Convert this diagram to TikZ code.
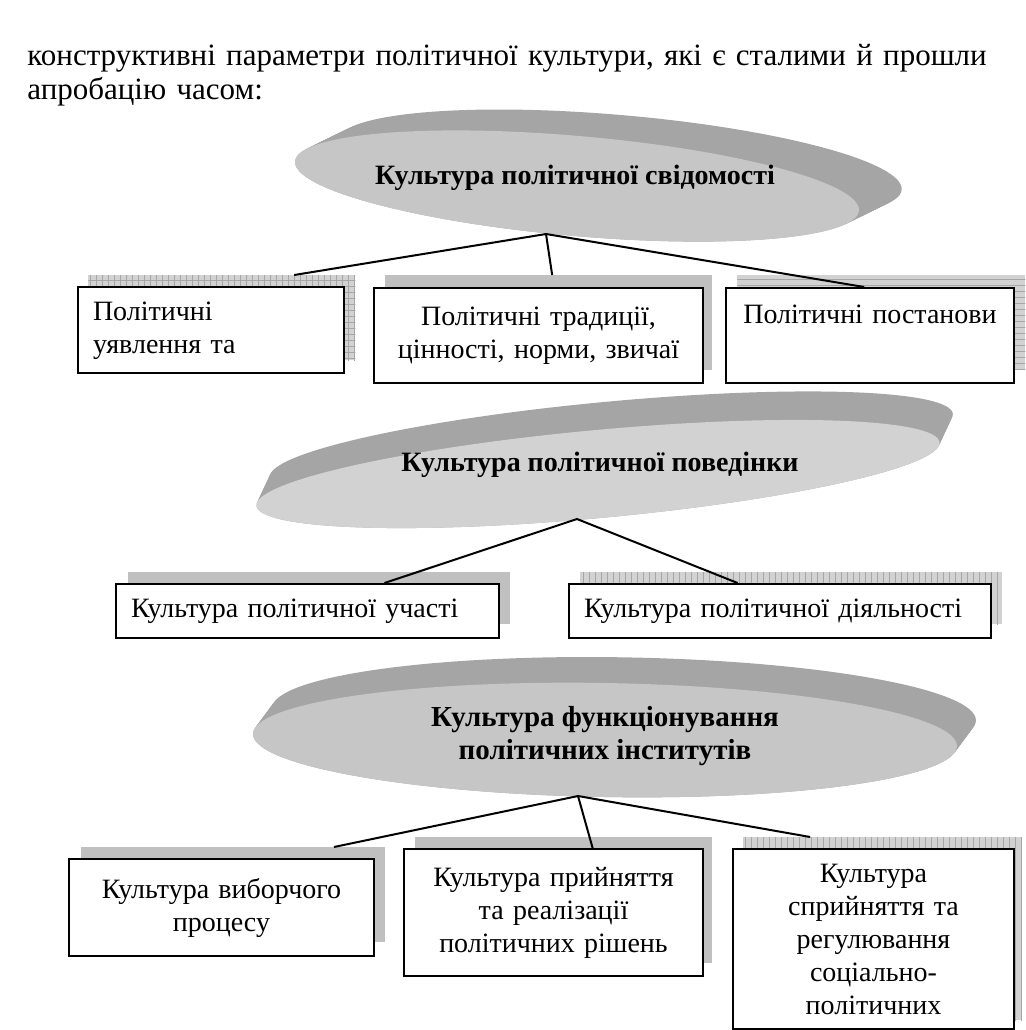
\documentclass[tikz,border=0pt]{standalone}
\usepackage{fontspec}
\setmainfont{Liberation Serif}
\usetikzlibrary{calc,patterns}

\definecolor{rimgray}{RGB}{165,165,165}
\definecolor{facegray}{RGB}{198,198,198}
\definecolor{facelight}{RGB}{210,210,210}
\definecolor{shadegray}{RGB}{192,192,192}
\definecolor{shadelight}{RGB}{210,210,210}

\tikzset{
  every node/.style={font=\fontsize{14}{16.5}\selectfont},
  box/.style={draw, line width=1pt, fill=white, anchor=north west,
    inner xsep=7.5pt, inner ysep=0pt, align=center},
  etext/.style={font=\bfseries\fontsize{14}{16.5}\selectfont, align=center},
  backshade/.style={fill=shadegray, anchor=north west, inner sep=0pt},
  gridshade/.style={backshade, fill=shadelight, postaction={pattern=grid, pattern color=gray!70}},
  hlineshade/.style={backshade, fill=shadelight, postaction={pattern=horizontal lines, pattern color=gray!70}},
  vlineshade/.style={backshade, fill=shadelight, postaction={pattern=vertical lines, pattern color=gray!70}},
  link/.style={line width=1pt},
}

\begin{document}
\begin{tikzpicture}[x=0.5pt,y=-0.5pt]
\useasboundingbox (0,0) rectangle (1025,1030);

%Text
\node[anchor=north west, text width=486.5pt, align=left, inner sep=0pt,
  font=\fontsize{15.5}{17}\selectfont] (intro) at (27,44)
  {\makebox[486.5pt][s]{конструктивні параметри політичної культури, які є сталими й прошли}\\
   апробацію часом:};

%Ellipses (rim swept up-right, then the face)
\foreach \t in {0,0.05,...,1}
  \fill[rimgray, shift={({45*\t},{-22*\t})}, rotate around={-5:(577,186)}] (577,186) ellipse [x radius=283, y radius=50];
\fill[facegray, rotate around={-5:(577,186)}] (577,186) ellipse [x radius=283, y radius=50];
\node[etext] (e1) at (575,178) {Культура політичної свідомості};
\coordinate (a1) at (546,234);

\foreach \t in {0,0.05,...,1}
  \fill[rimgray, shift={({14*\t},{-30*\t})}, rotate around={5.3:(598,474)}] (598,474) ellipse [x radius=343, y radius=44];
\fill[facelight, rotate around={5.3:(598,474)}] (598,474) ellipse [x radius=343, y radius=44];
\node[etext] (e2) at (600,465) {Культура політичної поведінки};
\coordinate (a2) at (577,519);

\foreach \t in {0,0.05,...,1}
  \fill[rimgray, shift={({20*\t},{-27*\t})}, rotate around={-1:(605,740)}] (605,740) ellipse [x radius=352, y radius=57];
\fill[facegray, rotate around={-1:(605,740)}] (605,740) ellipse [x radius=352, y radius=57];
\node[etext, font=\bfseries\fontsize{14.5}{16.5}\selectfont] (e3) at (605,736) {Культура функціонування\\політичних інститутів};
\coordinate (a3) at (578,796);

%Shadows
\node[gridshade, minimum width=133.5pt, minimum height=42.5pt] (sh1) at (88,275) {};
\node[backshade, minimum width=163.5pt, minimum height=47.5pt] (sh2) at (385,275) {};
\node[hlineshade, minimum width=144pt, minimum height=47.5pt] (sh3) at (737,275) {};

\node[backshade, minimum width=191pt, minimum height=26pt] (sh4) at (128,572) {};
\node[vlineshade, minimum width=211pt, minimum height=26pt] (sh5) at (580,572) {};

\node[backshade, minimum width=152pt, minimum height=47.5pt] (sh6) at (81,847) {};
\node[backshade, minimum width=148.5pt, minimum height=63pt] (sh7) at (415,837) {};
\node[vlineshade, minimum width=139.5pt, minimum height=91.5pt] (sh8) at (743,837) {};

%Boxes
\node[box, minimum width=133pt, text width=118pt, minimum height=43pt] (b1) at (77,286)
  {\parbox[c][40pt][t]{118pt}{\vspace*{6pt}\raggedright Політичні\\уявлення та}};
\node[box, minimum width=164.5pt, text width=149.5pt, minimum height=47.5pt] (b2) at (373,287)
  {Політичні традиції,\\цінності, норми, звичаї};
\node[box, minimum width=144pt, text width=129pt, minimum height=47.5pt] (b3) at (725,287)
  {Політичні постанови\\\strut};

\node[box, align=left, minimum width=191.5pt, text width=176.5pt, minimum height=27pt] (b4) at (115,583)
  {\mbox{Культура політичної участі}};
\node[box, align=left, minimum width=211pt, text width=196pt, minimum height=27pt] (b5) at (568,583)
  {\mbox{Культура політичної діяльності}};

\node[box, minimum width=152.5pt, text width=137.5pt, minimum height=48.5pt] (b6) at (68,858)
  {Культура виборчого\\процесу};
\node[box, minimum width=149.5pt, text width=134.5pt, minimum height=63.5pt] (b7) at (403,848)
  {Культура прийняття\\та реалізації\\політичних рішень};
\node[box, minimum width=140.5pt, text width=125.5pt, minimum height=90pt] (b8) at (732,848)
  {Культура\\сприйняття та\\регулювання\\соціально-\\політичних};

%Lines
\draw[link] (a1) -- ($(sh1.north west)!0.77!(sh1.north east)$);
\draw[link] (a1) -- ($(sh2.north west)!0.51!(sh2.north east)$);
\draw[link] (a1) -- ($(b3.north west)!0.48!(b3.north east)$);

\draw[link] (a2) -- ($(b4.north west)!0.70!(b4.north east)$);
\draw[link] (a2) -- ($(b5.north west)!0.40!(b5.north east)$);

\draw[link] (a3) -- ($(sh6.north west)!0.83!(sh6.north east)$);
\draw[link] (a3) -- ($(b7.north west)!0.63!(b7.north east)$);
\draw[link] (a3) -- ($(sh8.north west)!0.24!(sh8.north east)$);
\end{tikzpicture}
\end{document}
